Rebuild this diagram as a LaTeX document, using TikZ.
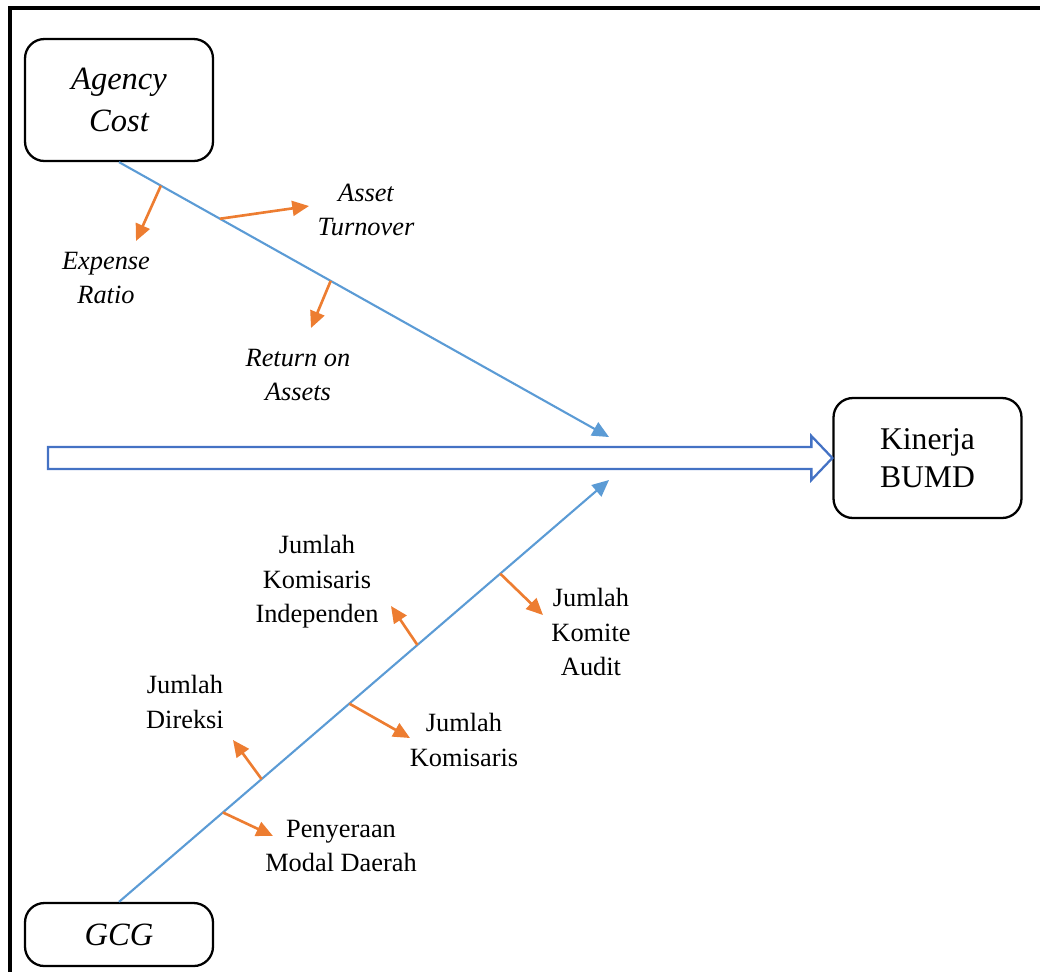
\documentclass[tikz,border=0pt]{standalone}
\usepackage{fontspec}
\setmainfont{Liberation Serif}
\usetikzlibrary{arrows.meta,calc}

\definecolor{garisbiru}{HTML}{5B9BD5}
\definecolor{panahbiru}{HTML}{4472C4}
\definecolor{oranye}{HTML}{ED7D31}

\tikzset{
  kotak/.style={draw, line width=1.3pt, rounded corners=11pt, align=center,
    inner sep=0pt, minimum width=3.76cm},
  tulang/.style={draw=garisbiru, line width=1.2pt, -{Triangle[length=9.5pt,width=8.5pt]}},
  cabang/.style={draw=oranye, line width=1.5pt, -{Triangle[length=9.5pt,width=8.5pt]}},
  teks/.style={align=center, font=\fontsize{15}{19.6}\selectfont},
  teksmiring/.style={align=center, font=\itshape\fontsize{15}{19.6}\selectfont},
}

\begin{document}
\begin{tikzpicture}[x=0.02cm,y=-0.02cm]
    \useasboundingbox (0,0) rectangle (1040,971);
    % Bingkai
    \draw[line width=2pt] (10,8) rectangle (1070,1000);

    % Kotak utama
    \node[kotak, minimum height=2.44cm, font=\itshape\fontsize{18.5}{23.8}\selectfont] (agency) at (119,100) {Agency\\Cost};
    \node[kotak, minimum height=2.4cm, font=\fontsize{18}{21.5}\selectfont] (kinerja) at (927.5,458) {Kinerja\\BUMD};
    \node[kotak, minimum height=1.26cm, font=\itshape\fontsize{18.5}{21.5}\selectfont] (gcg) at (119,934.5) {GCG};

    % Panah besar ke Kinerja BUMD
    \coordinate (pangkal) at (48,458);
    \draw[panahbiru, line width=1.3pt] ($(pangkal)+(0,-11)$) -- ($(kinerja.west)+(-21,-11)$)
        -- ($(kinerja.west)+(-21,-22)$) -- (kinerja.west) -- ($(kinerja.west)+(-21,22)$)
        -- ($(kinerja.west)+(-21,11)$) -- ($(pangkal)+(0,11)$) -- cycle;

    % Garis dari Agency Cost dan GCG
    \coordinate (ujungA) at (609,437);
    \coordinate (ujungB) at (609,480);
    \draw[tulang] (agency.south) -- (ujungA);
    \draw[tulang] (gcg.north) -- (ujungB);

    % Cabang Agency Cost
    \foreach \t/\ex/\ey/\nm in {0.0855/136/241/er, 0.206/309/206/at, 0.432/311/328/roa}{
        \coordinate (p\nm) at ($(agency.south)!\t!(ujungA)$);
        \coordinate (e\nm) at (\ex,\ey);
        \draw[cabang] (p\nm) -- (e\nm);
    }
    % Cabang GCG
    \foreach \t/\ex/\ey/\nm in {0.609/391/606/ki, 0.778/543/615/ka, 0.470/410/738/kom, 0.291/233/740/dir, 0.212/273/836/pmd}{
        \coordinate (p\nm) at ($(gcg.north)!\t!(ujungB)$);
        \coordinate (e\nm) at (\ex,\ey);
        \draw[cabang] (p\nm) -- (e\nm);
    }

    % Label
    \node[teksmiring] (ter) at (106,278) {Expense\\Ratio};
    \node[teksmiring] (tat) at (366,210) {Asset\\Turnover};
    \node[teksmiring] (troa) at (298,375) {Return on\\Assets};
    \node[teks] (tki) at (317,582) {Jumlah\\Komisaris\\Independen};
    \node[teks] (tka) at (591,632) {Jumlah\\Komite\\Audit};
    \node[teks] (tkom) at (464,740) {Jumlah\\Komisaris};
    \node[teks] (tdir) at (185,702) {Jumlah\\Direksi};
    \node[teks] (tpmd) at (341,846) {Penyeraan\\Modal Daerah};
\end{tikzpicture}
\end{document}
